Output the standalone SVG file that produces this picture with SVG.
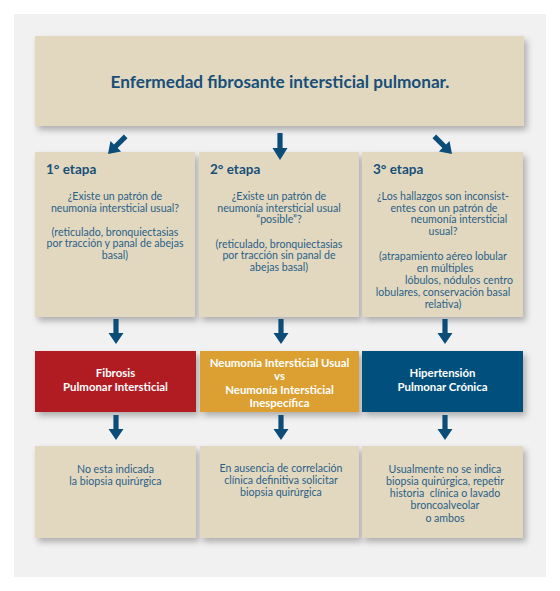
<svg xmlns="http://www.w3.org/2000/svg" xmlns:xlink="http://www.w3.org/1999/xlink" width="560" height="591" viewBox="0 0 560 591">
<defs>
<filter id="sh" x="-10%" y="-10%" width="130%" height="140%">
<feDropShadow dx="3" dy="4" stdDeviation="3" flood-color="#000" flood-opacity="0.28"/>
</filter>
<path id="arr" d="M-2.6,-25 H2.6 V-11 H7.5 L0,0 L-7.5,-11 H-2.6 Z"/>
<style>
.box{fill:#e2d8c0;filter:url(#sh)}
.title{font-family:Lato,"Liberation Sans",sans-serif;font-weight:bold;font-size:17.2px;fill:#174f78;text-anchor:middle}
.stg{font-family:Lato,"Liberation Sans",sans-serif;font-weight:bold;font-size:13.5px;fill:#174f78}
.body{font-family:Lato,"Liberation Sans",sans-serif;font-size:10.6px;fill:#2a5f86;text-anchor:middle}
.wt{font-family:Lato,"Liberation Sans",sans-serif;font-weight:bold;font-size:11.4px;fill:#ffffff;text-anchor:middle}
.ar{fill:#0b4d78}
</style>
</defs>
<rect x="0" y="0" width="560" height="591" fill="#ffffff"/>
<rect x="14" y="14" width="532" height="563" fill="#f1f1f1"/>

<g id="title">
<rect class="box" x="35" y="36" width="489" height="90"/>
<text class="title" x="280" y="88">Enfermedad fibrosante intersticial pulmonar.</text>
</g>

<g id="stage1">
<rect class="box" x="35" y="152" width="160" height="165"/>
<text class="stg" x="46" y="174">1° etapa</text>
<text class="body"><tspan x="115" y="200">¿Existe un patrón de</tspan><tspan x="115" y="211.5">neumonía intersticial usual?</tspan><tspan x="115" y="235.5">(reticulado, bronquiectasias</tspan><tspan x="115" y="247">por tracción y panal de abejas</tspan><tspan x="115" y="258.5">basal)</tspan></text>
</g>

<g id="stage2">
<rect class="box" x="199" y="152" width="160" height="165"/>
<text class="stg" x="210" y="174">2° etapa</text>
<text class="body"><tspan x="279" y="200">¿Existe un patrón de</tspan><tspan x="279" y="211.5">neumonía intersticial usual</tspan><tspan x="279" y="223">“posible”?</tspan><tspan x="279" y="247.5">(reticulado, bronquiectasias</tspan><tspan x="279" y="259">por tracción sin panal de</tspan><tspan x="279" y="271">abejas basal)</tspan></text>
</g>

<g id="stage3">
<rect class="box" x="362" y="152" width="161" height="165"/>
<text class="stg" x="373" y="174">3° etapa</text>
<text class="body"><tspan x="443" y="199.5">¿Los hallazgos son inconsist-</tspan><tspan x="444" y="211.5">entes con un patrón de</tspan><tspan x="459" y="222.5">neumonía intersticial</tspan><tspan x="443" y="234.5">usual?</tspan><tspan x="443" y="259.5">(atrapamiento aéreo lobular</tspan><tspan x="445" y="271.5">en múltiples</tspan><tspan x="459" y="284">lóbulos, nódulos centro</tspan><tspan x="443" y="296">lobulares, conservación basal</tspan><tspan x="443" y="307.5">relativa)</tspan></text>
</g>

<g id="fibrosis">
<rect x="35" y="351" width="161" height="61" fill="#b01b20" filter="url(#sh)"/>
<text class="wt"><tspan x="115.5" y="377">Fibrosis</tspan><tspan x="115.5" y="391">Pulmonar Intersticial</tspan></text>
</g>

<g id="neumonia">
<rect x="200" y="351" width="159" height="61" fill="#dc9f33" filter="url(#sh)"/>
<text class="wt"><tspan x="279.5" y="366.5">Neumonía Intersticial Usual</tspan><tspan x="279.5" y="380">vs</tspan><tspan x="279.5" y="393.5">Neumonía Intersticial</tspan><tspan x="279.5" y="407">Inespecífica</tspan></text>
</g>

<g id="hipertension">
<rect x="362" y="351" width="161" height="61" fill="#03507d" filter="url(#sh)"/>
<text class="wt"><tspan x="442.5" y="377">Hipertensión</tspan><tspan x="442.5" y="391">Pulmonar Crónica</tspan></text>
</g>

<g id="result1">
<rect class="box" x="35" y="446" width="161" height="92"/>
<text class="body"><tspan x="115.5" y="472.5">No esta indicada</tspan><tspan x="115.5" y="484.5">la biopsia quirúrgica</tspan></text>
</g>

<g id="result2">
<rect class="box" x="200" y="446" width="159" height="92"/>
<text class="body"><tspan x="281" y="471.5">En ausencia de correlación</tspan><tspan x="281" y="484">clínica definitiva solicitar</tspan><tspan x="281" y="496">biopsia quirúrgica</tspan></text>
</g>

<g id="result3">
<rect class="box" x="362" y="446" width="161" height="92"/>
<text class="body"><tspan x="445" y="472.5">Usualmente no se indica</tspan><tspan x="445" y="484.5">biopsia quirúrgica, repetir</tspan><tspan x="445" y="496.5">historia&#160; clínica o lavado</tspan><tspan x="445" y="509">broncoalveolar</tspan><tspan x="445" y="521.5">o ambos</tspan></text>
</g>

<g id="connectors" class="ar">
<use xlink:href="#arr" transform="translate(108,154) rotate(45)"/>
<use xlink:href="#arr" transform="translate(280,160) scale(1,1.08)"/>
<use xlink:href="#arr" transform="translate(452,154) rotate(-45)"/>
<use xlink:href="#arr" transform="translate(116,344)"/>
<use xlink:href="#arr" transform="translate(281,344)"/>
<use xlink:href="#arr" transform="translate(445,344)"/>
<use xlink:href="#arr" transform="translate(116,440)"/>
<use xlink:href="#arr" transform="translate(281,440)"/>
<use xlink:href="#arr" transform="translate(445,440)"/>
</g>
</svg>
